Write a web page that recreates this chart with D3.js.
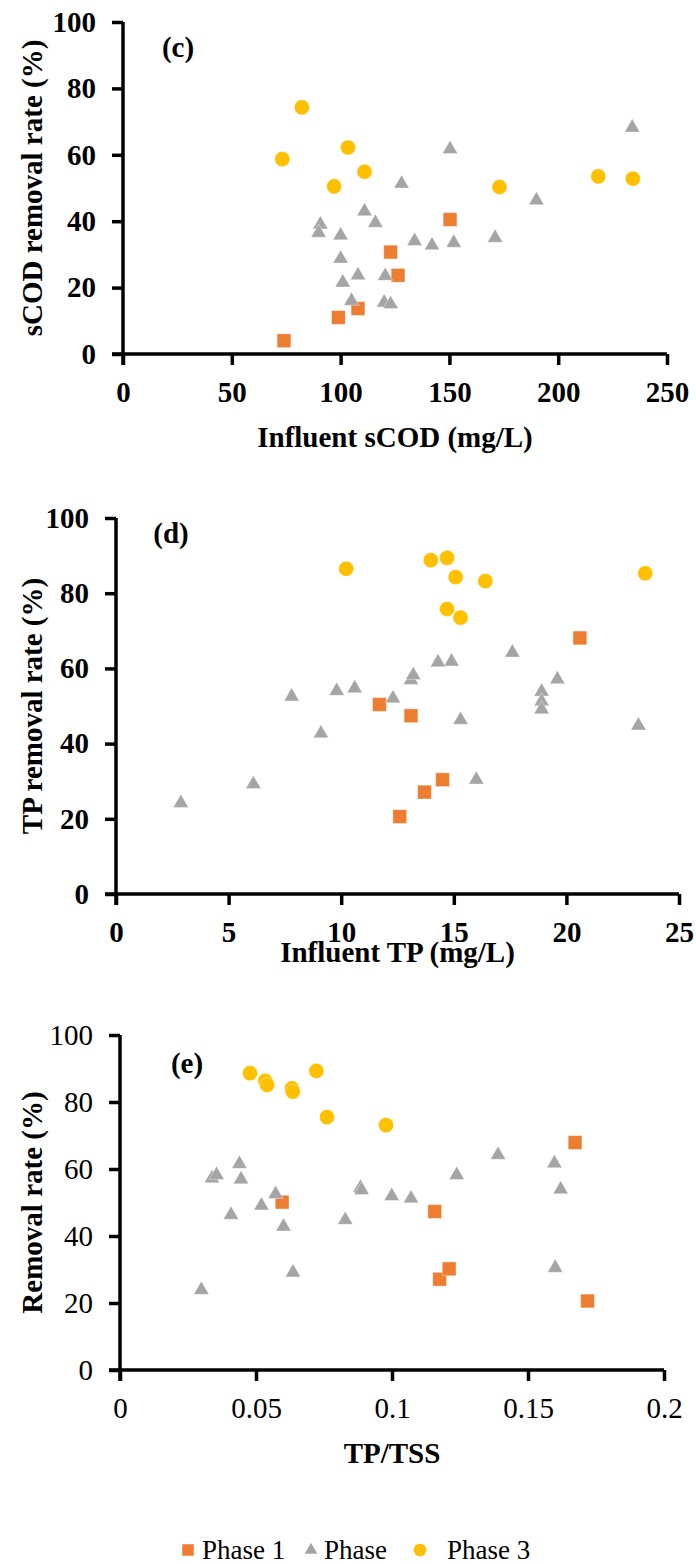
<!DOCTYPE html>
<html>
<head>
<meta charset="utf-8">
<script src="https://cdn.jsdelivr.net/npm/d3@7"></script>
<style>
  body { margin: 0; background: #fff; }
  svg { display: block; }
</style>
</head>
<body>
<script>
// panel (c): influent sCOD vs sCOD removal
const codP1x = [74, 99, 108, 123, 126.4, 150.3];
const codP1y = [4.0, 11, 13.7, 30.7, 23.7, 40.5];
const codP2x = [90.7, 89.9, 100, 100, 101, 105, 108, 111, 116, 120.5, 120, 123, 128, 134, 142, 152, 171, 190, 150.3, 234];
const codP2y = [39, 36.5, 35.7, 28.7, 21.5, 16, 23.7, 43, 39.5, 23.5, 15.5, 15, 51.3, 34, 32.7, 33.5, 35, 46.3, 61.7, 68.2];
const codP3x = [73.2, 82.2, 97, 103.4, 111, 173, 218.4, 234.3];
const codP3y = [58.7, 74.3, 50.5, 62.2, 54.9, 50.3, 53.5, 52.8];

// panel (d): influent TP vs TP removal
const tpP1x = [11.7, 13.1, 12.6, 13.7, 14.5, 20.6];
const tpP1y = [50.4, 47.4, 20.6, 27.1, 30.4, 68.1];
const tpP2x = [2.88, 6.1, 7.8, 9.1, 9.8, 10.6, 12.3, 13.1, 13.2, 14.3, 14.9, 15.3, 16.0, 17.6, 18.9, 18.9, 18.9, 19.6, 23.2];
const tpP2y = [24.2, 29.2, 52.5, 42.7, 54, 54.7, 52, 56.9, 58.2, 61.6, 61.8, 46.3, 30.4, 64.2, 53.8, 51.2, 49.1, 57.1, 44.8];
const tpP3x = [10.22, 13.98, 14.7, 15.08, 16.4, 14.7, 15.3, 23.5];
const tpP3y = [86.5, 88.8, 89.4, 84.3, 83.2, 75.8, 73.5, 85.3];

// panel (e): TP/TSS vs removal
const ratioP1x = [0.0596, 0.1157, 0.1175, 0.121, 0.1673, 0.1719];
const ratioP1y = [50.1, 47.3, 27.1, 30.2, 67.9, 20.6];
const ratioP2x = [0.0299, 0.0338, 0.0355, 0.0408, 0.0439, 0.0445, 0.052, 0.0572, 0.0601, 0.0636, 0.0828, 0.0884, 0.0888, 0.0999, 0.107, 0.1238, 0.139, 0.1597, 0.162, 0.16];
const ratioP2y = [23.9, 57.2, 58.2, 46.3, 61.5, 56.9, 49.1, 52.5, 42.8, 29.1, 44.8, 54.4, 53.7, 51.9, 51.2, 58.2, 64.2, 61.7, 53.9, 30.5];
const ratioP3x = [0.0478, 0.0534, 0.0541, 0.0632, 0.0635, 0.0722, 0.0761, 0.0978];
const ratioP3y = [88.6, 86.3, 85.1, 84.1, 83.1, 89.3, 75.5, 73.1];

const yTicks = [0, 20, 40, 60, 80, 100];
const codTicks = [0, 50, 100, 150, 200, 250];
const tpTicks = [0, 5, 10, 15, 20, 25];
const ratioTicks = [0, 0.05, 0.1, 0.15, 0.2];

const phaseNames = ["Phase 1", "Phase", "Phase 3"];
const phaseColors = ["#ED7D31", "#A5A5A5", "#FFC000"];
const phaseSymbols = [d3.symbolSquare, d3.symbolTriangle, d3.symbolCircle];
const phaseSizes = [190, 100, 180];

const width = 696, height = 1564;
const font = "'Liberation Serif', 'Times New Roman', serif";

const svg = d3.select("body").append("svg")
    .attr("width", width)
    .attr("height", height)
    .attr("font-family", font);

const zip = (xs, ys) => xs.map((x, i) => [x, ys[i]]);

const panels = [
  {tag: "(c)", xDomain: [0, 250], xTicks: codTicks, xRange: [123, 667], yRange: [354, 22],
   bold: true, xTitle: "Influent sCOD (mg/L)", yTitle: "sCOD removal rate (%)",
   xTitleY: 437, tagPos: [178, 47],
   series: [zip(codP1x, codP1y), zip(codP2x, codP2y), zip(codP3x, codP3y)]},
  {tag: "(d)", xDomain: [0, 25], xTicks: tpTicks, xRange: [116, 679], yRange: [894, 518],
   bold: true, xTitle: "Influent TP (mg/L)", yTitle: "TP removal rate (%)",
   xTitleY: 952, tagPos: [171, 533],
   series: [zip(tpP1x, tpP1y), zip(tpP2x, tpP2y), zip(tpP3x, tpP3y)]},
  {tag: "(e)", xDomain: [0, 0.2], xTicks: ratioTicks, xRange: [120, 664], yRange: [1370, 1035],
   bold: false, xTitle: "TP/TSS", yTitle: "Removal rate (%)",
   xTitleY: 1453, tagPos: [187, 1063],
   series: [zip(ratioP1x, ratioP1y), zip(ratioP2x, ratioP2y), zip(ratioP3x, ratioP3y)]}
];

panels.forEach(p => {
  const x = d3.scaleLinear().domain(p.xDomain).range(p.xRange);
  const y = d3.scaleLinear().domain([0, 100]).range(p.yRange);
  const g = svg.append("g");
  const weight = p.bold ? "bold" : "normal";

  // x axis
  const xAxis = g.append("g")
      .attr("transform", `translate(0,${p.yRange[0]})`)
      .call(d3.axisBottom(x).tickValues(p.xTicks).tickSize(11).tickPadding(16)
        .tickFormat(d => String(d)).tickSizeOuter(0));
  // y axis
  const yAxis = g.append("g")
      .attr("transform", `translate(${p.xRange[0]},0)`)
      .call(d3.axisLeft(y).tickValues(yTicks).tickSize(11).tickPadding(16).tickSizeOuter(0));

  [xAxis, yAxis].forEach(a => {
    a.select(".domain").attr("stroke", "#000").attr("stroke-width", 3.5);
    a.selectAll(".tick line").attr("stroke", "#000").attr("stroke-width", 3.5);
    a.selectAll(".tick text")
      .attr("font-family", font)
      .attr("font-size", 29)
      .attr("font-weight", weight)
      .attr("fill", "#000");
  });
  // axis lines meet at the corner
  xAxis.select(".domain").attr("d", `M${p.xRange[0] - 11},0H${p.xRange[1]}`);
  yAxis.select(".domain").attr("d", `M0,${p.yRange[0] + 11}V${p.yRange[1]}`);

  // markers, with the faint light edge Excel gives them
  p.series.forEach((pts, i) => {
    g.append("g").selectAll("path")
      .data(pts)
      .join("path")
      .attr("transform", d => `translate(${x(d[0])},${y(d[1])})`)
      .attr("d", d3.symbol().type(phaseSymbols[i]).size(phaseSizes[i]))
      .attr("fill", phaseColors[i])
      .attr("stroke", "#fff")
      .attr("stroke-opacity", 0.5)
      .attr("stroke-width", 0.75);
  });

  // panel tag
  g.append("text")
    .attr("x", p.tagPos[0]).attr("y", p.tagPos[1])
    .attr("text-anchor", "middle").attr("dy", "0.35em")
    .attr("font-size", 29).attr("font-weight", "bold")
    .text(p.tag);

  // x title
  g.append("text")
    .attr("x", (p.xRange[0] + p.xRange[1]) / 2).attr("y", p.xTitleY)
    .attr("text-anchor", "middle").attr("dy", "0.35em")
    .attr("font-size", 29).attr("font-weight", "bold")
    .text(p.xTitle);

  // y title
  g.append("text")
    .attr("transform", `translate(32,${(p.yRange[0] + p.yRange[1]) / 2}) rotate(-90)`)
    .attr("text-anchor", "middle").attr("dy", "0.35em")
    .attr("font-size", 29).attr("font-weight", "bold")
    .text(p.yTitle);
});

// legend
const legendX = [188, 311, 420];
const legendTextX = [202, 324, 447];
const legend = svg.append("g").attr("transform", "translate(0,1550)");
phaseNames.forEach((name, i) => {
  legend.append("path")
    .attr("transform", `translate(${legendX[i]},0)`)
    .attr("d", d3.symbol().type(phaseSymbols[i]).size(phaseSizes[i] * 0.7))
    .attr("fill", phaseColors[i]);
  legend.append("text")
    .attr("x", legendTextX[i]).attr("dy", "0.35em")
    .attr("font-size", 27)
    .text(name);
});
</script>
</body>
</html>
